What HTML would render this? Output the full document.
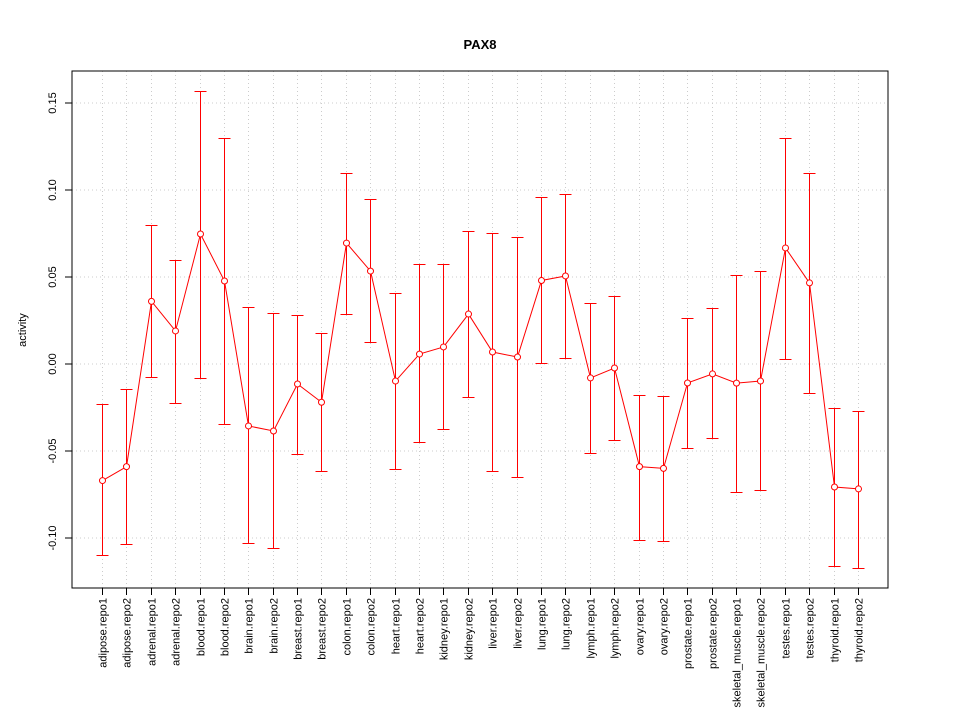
<!DOCTYPE html>
<html><head><meta charset="utf-8"><style>body{margin:0;background:#fff}svg{display:block;font-family:"Liberation Sans",Arial,sans-serif}</style></head>
<body>
<svg id="chart" width="960" height="720" xmlns="http://www.w3.org/2000/svg">
<rect width="960" height="720" fill="#fff"/>
<text x="480" y="49" text-anchor="middle" font-size="13" font-weight="bold">PAX8</text>
<text transform="translate(26,330) rotate(-90)" text-anchor="middle" font-size="11">activity</text>
<g id="grid"></g><g id="axes"></g><g id="marks"></g>
<rect x="72" y="71" width="816" height="517" fill="none" stroke="#000"/>
</svg>
<script>
const categories=["adipose.repo1","adipose.repo2","adrenal.repo1","adrenal.repo2","blood.repo1","blood.repo2","brain.repo1","brain.repo2","breast.repo1","breast.repo2","colon.repo1","colon.repo2","heart.repo1","heart.repo2","kidney.repo1","kidney.repo2","liver.repo1","liver.repo2","lung.repo1","lung.repo2","lymph.repo1","lymph.repo2","ovary.repo1","ovary.repo2","prostate.repo1","prostate.repo2","skeletal_muscle.repo1","skeletal_muscle.repo2","testes.repo1","testes.repo2","thyroid.repo1","thyroid.repo2"];
const values=[-0.067,-0.059,0.036,0.019,0.0747,0.0477,-0.0356,-0.0385,-0.0115,-0.022,0.0695,0.0534,-0.0098,0.0057,0.0098,0.0287,0.0069,0.004,0.048,0.0506,-0.008,-0.0023,-0.059,-0.060,-0.0109,-0.0057,-0.011,-0.0098,0.0667,0.0466,-0.0707,-0.0718];
const upper=[-0.023,-0.0145,0.080,0.060,0.157,0.130,0.0328,0.0293,0.028,0.018,0.110,0.0948,0.0408,0.0575,0.0575,0.0764,0.0753,0.073,0.096,0.0977,0.035,0.039,-0.0178,-0.0184,0.0264,0.0322,0.051,0.0534,0.130,0.110,-0.0253,-0.027];
const lower=[-0.110,-0.1035,-0.0075,-0.0225,-0.008,-0.0345,-0.103,-0.106,-0.052,-0.0615,0.029,0.0126,-0.0603,-0.0448,-0.0374,-0.019,-0.0615,-0.065,0.0006,0.0034,-0.051,-0.0437,-0.101,-0.1017,-0.048,-0.0425,-0.0736,-0.0724,0.0029,-0.0167,-0.116,-0.117];
const yTicks=[-0.10,-0.05,0.00,0.05,0.10,0.15];
const yTickLabels=["-0.10","-0.05","0.00","0.05","0.10","0.15"];
const NS="http://www.w3.org/2000/svg";
const y=v=>364-v*1740;
const x=i=>Math.round(102+i*(858-102)/(categories.length-1))+0.5;
function mk(t,a,p){const e=document.createElementNS(NS,t);for(const k in a)e.setAttribute(k,a[k]);p.appendChild(e);return e;}
const grid=document.getElementById('grid'),axes=document.getElementById('axes'),marks=document.getElementById('marks');
yTicks.forEach((v,i)=>{
 const g=mk('line',{x1:72,x2:888,y1:y(v),y2:y(v),stroke:'#ccc','stroke-dasharray':'1,3'},grid);
 
 
 const t=mk('line',{x1:65,x2:72,y1:y(v),y2:y(v),stroke:'#000'},axes);
 
 
 const l=mk('text',{transform:`translate(56,${y(v)}) rotate(-90)`,'text-anchor':'middle','font-size':11},axes);
 l.textContent=yTickLabels[i];
 
 
});
categories.forEach((c,i)=>{
 const g=mk('line',{x1:x(i),x2:x(i),y1:71,y2:588,stroke:'#ccc','stroke-dasharray':'1,3'},grid);
 
 
 const t=mk('line',{x1:x(i),x2:x(i),y1:588,y2:595,stroke:'#000'},axes);
 
 
 const l=mk('text',{transform:`translate(${x(i)+4},598) rotate(-90)`,'text-anchor':'end','font-size':11},axes);
 l.textContent=c;
 
 
});
const pts=values.map((v,i)=>x(i)+','+y(v)).join(' ');
const pl=mk('polyline',{points:pts,fill:'none',stroke:'#f00','stroke-width':1},marks);


values.forEach((v,i)=>{
 const yu=Math.round(y(upper[i]))+0.5, yl=Math.round(y(lower[i]))+0.5;
 const e=mk('path',{d:`M${x(i)},${yu}V${yl}M${x(i)-6},${yu}H${x(i)+6}M${x(i)-6},${yl}H${x(i)+6}`,stroke:'#f00',fill:'none','stroke-width':1},marks);
 
 
 const p=mk('circle',{cx:x(i),cy:y(v),r:3,fill:'#fff',stroke:'#f00','stroke-width':1},marks);
 
 
});
</script>
</body></html>
